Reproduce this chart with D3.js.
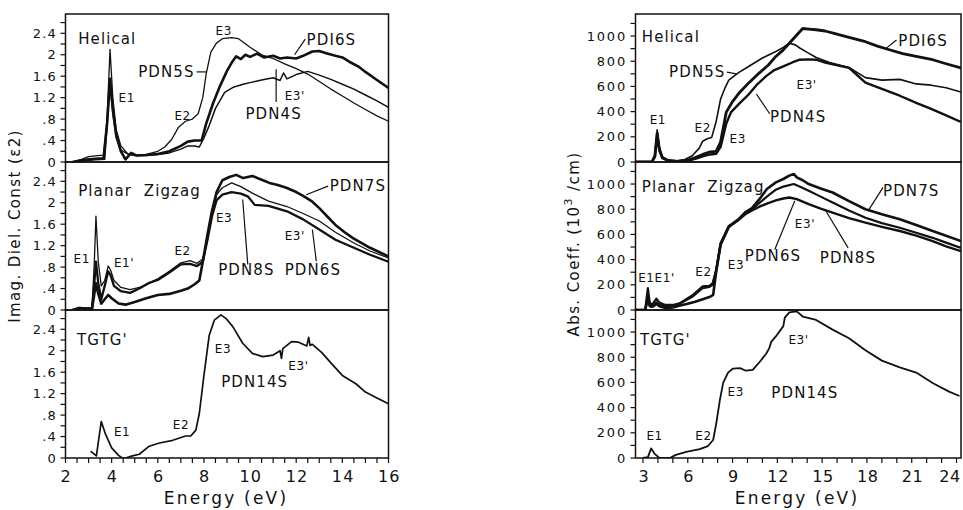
<!DOCTYPE html>
<html><head><meta charset="utf-8">
<script src="https://cdn.jsdelivr.net/npm/d3@7/dist/d3.min.js"></script>
<style>
body{margin:0;background:#fff}
svg{display:block}
text{font-family:"DejaVu Sans",Verdana,sans-serif;fill:#111}
</style>
</head><body>
<svg id="chart" width="963" height="510"></svg>
<script>
// ---------------- DATA ----------------
// Left column: imaginary dielectric constant (eps2) vs energy (eV)
const epsHelicalPDN5S = [[2.3,0],[2.7,0.05],[3.0,0.1],[3.4,0.12],[3.65,0.13],[3.8,0.8],[3.93,2.1],[4.05,1.2],[4.2,0.6],[4.4,0.3],[4.7,0.15],[5.0,0.12],[5.5,0.14],[6.0,0.2],[6.3,0.28],[6.6,0.42],[6.9,0.65],[7.2,0.76],[7.5,0.8],[7.75,0.9],[7.95,1.2],[8.1,1.65],[8.3,2.05],[8.55,2.22],[8.8,2.3],[9.2,2.32],[9.5,2.3],[10.0,2.14],[10.5,2.0],[11.0,1.93],[11.5,1.83],[12.0,1.74],[12.5,1.64],[13.0,1.5],[13.5,1.36],[14.0,1.23],[14.5,1.1],[15.0,0.98],[15.5,0.86],[16,0.76]];
const epsHelicalPDI6S = [[2.3,0],[2.8,0.04],[3.3,0.06],[3.65,0.07],[3.8,0.7],[3.93,1.55],[4.05,1.0],[4.2,0.5],[4.4,0.2],[4.6,0.05],[4.85,0.17],[5.1,0.12],[5.5,0.13],[6.0,0.15],[6.5,0.2],[7.0,0.3],[7.3,0.38],[7.6,0.4],[7.9,0.4],[8.1,0.72],[8.4,1.1],[8.7,1.42],[9.0,1.7],[9.2,1.85],[9.4,1.97],[9.6,1.92],[9.8,2.0],[10.0,1.96],[10.3,2.02],[10.6,1.95],[11.0,1.98],[11.3,1.93],[11.6,1.95],[12.0,1.93],[12.3,1.98],[12.7,2.06],[13.0,2.07],[13.3,2.03],[13.7,1.98],[14.0,1.95],[14.3,1.87],[14.7,1.78],[15.0,1.68],[15.5,1.53],[16,1.38]];
const epsHelicalPDN4S = [[2.3,0],[2.8,0.03],[3.3,0.04],[3.7,0.05],[3.82,0.8],[3.93,1.45],[4.05,0.9],[4.2,0.45],[4.4,0.22],[4.7,0.15],[5.0,0.12],[5.5,0.12],[6.0,0.14],[6.5,0.17],[7.0,0.24],[7.3,0.3],[7.6,0.3],[7.8,0.28],[8.0,0.45],[8.2,0.65],[8.5,1.0],[8.9,1.3],[9.3,1.4],[9.7,1.45],[10.0,1.48],[10.5,1.53],[11.0,1.57],[11.3,1.52],[11.45,1.66],[11.6,1.55],[12.0,1.63],[12.5,1.69],[13.0,1.62],[13.5,1.54],[14.0,1.45],[14.5,1.36],[15.0,1.25],[15.5,1.14],[16,1.02]];

const epsZigzagPDN8S = [[2.3,0],[2.6,0.05],[2.9,0.03],[3.15,0.03],[3.25,0.9],[3.32,1.75],[3.42,0.9],[3.55,0.45],[3.7,0.55],[3.85,0.82],[3.95,0.75],[4.1,0.55],[4.4,0.42],[4.8,0.38],[5.2,0.42],[5.6,0.5],[6.0,0.58],[6.5,0.72],[7.0,0.88],[7.4,0.92],[7.7,0.87],[7.95,0.95],[8.15,1.3],[8.35,1.8],[8.55,2.15],[8.8,2.28],[9.2,2.37],[9.6,2.3],[10.1,2.18],[10.8,2.03],[11.6,1.93],[12.3,1.8],[13.0,1.66],[13.7,1.45],[14.5,1.25],[15.2,1.1],[16,0.97]];
const epsZigzagPDN6S = [[2.3,0],[2.6,0.04],[2.9,0.03],[3.15,0.03],[3.25,0.5],[3.32,0.9],[3.42,0.5],[3.55,0.2],[3.7,0.45],[3.85,0.72],[3.95,0.65],[4.1,0.45],[4.4,0.35],[4.8,0.32],[5.2,0.4],[5.6,0.5],[6.0,0.56],[6.5,0.7],[7.0,0.85],[7.4,0.86],[7.7,0.82],[7.95,0.9],[8.15,1.3],[8.35,1.75],[8.55,2.05],[8.8,2.15],[9.2,2.2],[9.6,2.17],[9.9,2.12],[10.2,1.96],[10.5,1.95],[10.8,1.94],[11.6,1.84],[12.3,1.69],[13.0,1.5],[13.7,1.31],[14.5,1.16],[15.2,1.03],[16,0.9]];
const epsZigzagPDN7S = [[2.3,0],[2.6,0.03],[3.15,0.02],[3.25,0.3],[3.32,0.5],[3.42,0.3],[3.55,0.12],[3.7,0.2],[3.85,0.28],[4.0,0.22],[4.3,0.12],[4.6,0.1],[5.0,0.15],[5.5,0.22],[6.0,0.28],[6.5,0.3],[7.0,0.36],[7.3,0.4],[7.6,0.48],[7.8,0.55],[7.95,0.9],[8.15,1.4],[8.35,1.85],[8.55,2.2],[8.8,2.42],[9.1,2.48],[9.4,2.52],[9.7,2.46],[10.1,2.5],[10.5,2.43],[10.84,2.37],[11.2,2.33],[11.57,2.28],[12.0,2.2],[12.3,2.13],[12.7,2.02],[13.0,1.9],[13.4,1.72],[13.74,1.57],[14.1,1.45],[14.46,1.34],[15.2,1.16],[16,1.0]];

const epsTGTGPDN14S = [[3.09,0.13],[3.34,0.04],[3.49,0.5],[3.55,0.68],[3.72,0.46],[4.0,0.19],[4.3,0.05],[4.46,0],[4.6,0],[4.9,0.04],[5.2,0.07],[5.63,0.22],[6.07,0.28],[6.65,0.33],[7.2,0.41],[7.43,0.41],[7.65,0.52],[7.8,0.83],[8.0,1.54],[8.23,2.29],[8.45,2.57],[8.74,2.67],[8.96,2.6],[9.25,2.45],[9.68,2.14],[10.1,1.95],[10.55,1.89],[11.0,1.92],[11.3,2.0],[11.36,1.86],[11.42,2.04],[11.8,2.17],[12.1,2.16],[12.46,2.09],[12.54,2.25],[12.6,2.1],[12.7,2.12],[13.1,1.97],[13.55,1.75],[14.0,1.54],[14.6,1.38],[15.0,1.23],[15.5,1.12],[16,1.01]];

// Right column: absorption coefficient (10^3 /cm) vs energy (eV)
const absHelicalPDN5S = [[2.5,0],[3.6,0],[3.8,60],[3.95,255],[4.1,120],[4.3,40],[4.7,15],[5.3,10],[5.8,20],[6.3,50],[6.77,110],[7.0,165],[7.3,185],[7.6,195],[7.9,320],[8.2,500],[8.5,590],[8.75,650],[9.4,710],[10.1,760],[11.0,826],[11.9,877],[12.4,910],[12.8,943],[13.2,930],[13.5,905],[14.0,870],[14.6,830],[15.5,790],[16.8,750],[17.9,670],[19,650],[20.2,656],[21.3,620],[22.3,610],[23.3,590],[24.3,555]];
const absHelicalPDN4S = [[2.5,0],[3.6,0],[3.8,40],[3.95,200],[4.1,90],[4.3,30],[4.7,10],[5.3,5],[6.0,10],[6.5,25],[7.0,45],[7.5,60],[7.9,65],[8.2,120],[8.58,305],[8.9,396],[9.5,470],[10.0,526],[10.6,610],[11.25,682],[11.8,730],[12.4,760],[13.0,790],[13.5,812],[14.1,815],[14.6,812],[15.2,790],[15.8,773],[16.8,747],[17.9,630],[19.0,580],[20.2,526],[21.3,470],[22.3,422],[23.3,370],[24.3,318]];
const absHelicalPDI6S = [[2.5,0],[3.6,0],[3.8,50],[3.95,230],[4.1,100],[4.3,35],[4.7,10],[5.3,5],[6.0,15],[6.5,35],[7.0,60],[7.5,80],[7.9,85],[8.2,160],[8.58,396],[9.0,480],[9.47,552],[10.1,630],[10.8,708],[11.4,770],[11.9,838],[12.4,890],[12.8,943],[13.3,1008],[13.7,1060],[14.1,1055],[14.6,1050],[15.2,1040],[15.8,1021],[16.8,990],[17.9,955],[18.7,920],[19.5,891],[20.4,860],[21.3,838],[22.4,812],[23.3,780],[24.3,747]];

const absZigzagPDN7S = [[2.5,0],[3.15,0],[3.25,60],[3.33,120],[3.45,40],[3.7,30],[3.9,50],[4.1,30],[4.5,15],[5.0,20],[5.5,35],[6.0,50],[6.5,65],[7.0,85],[7.5,105],[7.7,120],[7.9,300],[8.2,520],[8.75,660],[9.4,720],[9.85,775],[10.3,810],[10.8,880],[11.3,960],[11.9,1013],[12.4,1040],[12.8,1067],[13.1,1080],[13.3,1053],[13.7,1030],[14.1,1000],[14.9,965],[15.7,933],[16.8,865],[17.9,800],[19.0,760],[20.2,720],[21.3,675],[22.4,627],[23.3,590],[24.3,547]];
const absZigzagPDN8S = [[2.5,0],[3.15,0],[3.25,100],[3.33,173],[3.45,60],[3.6,40],[3.9,90],[4.1,60],[4.5,40],[5.0,40],[5.45,53],[6.35,120],[7.0,187],[7.45,192],[7.67,213],[7.9,320],[8.2,533],[8.75,667],[9.4,720],[9.85,773],[10.3,800],[10.8,850],[11.3,900],[11.9,955],[12.4,980],[13.1,1000],[13.6,975],[14.1,947],[14.9,900],[15.7,853],[16.8,790],[17.9,733],[19.0,690],[20.2,653],[21.3,613],[22.4,573],[23.3,535],[24.3,493]];
const absZigzagPDN6S = [[2.5,0],[3.15,0],[3.25,50],[3.33,90],[3.45,30],[3.6,25],[3.9,60],[4.1,40],[4.5,30],[5.0,35],[5.45,50],[6.35,110],[7.0,175],[7.45,185],[7.67,200],[7.9,310],[8.2,520],[8.75,660],[9.4,715],[9.85,760],[10.3,790],[10.8,820],[11.3,845],[11.9,870],[12.4,885],[12.8,893],[13.3,880],[14.1,840],[14.9,805],[15.7,773],[16.8,730],[17.9,693],[19.0,660],[20.2,627],[21.3,590],[22.4,547],[23.3,505],[24.3,467]];

const absTGTGPDN14S = [[3.0,0],[3.33,7],[3.55,76],[3.77,35],[4.1,0],[4.5,0],[4.8,0],[5.2,25],[5.9,49],[6.8,71],[7.35,95],[7.7,143],[7.9,268],[8.15,459],[8.37,596],[8.7,678],[9.03,710],[9.5,713],[9.9,693],[10.35,700],[10.8,760],[11.25,828],[11.45,870],[11.6,924],[11.9,965],[12.4,1047],[12.5,1115],[12.8,1156],[13.3,1164],[13.7,1123],[14.6,1096],[15.7,1019],[16.8,951],[17.9,855],[19.0,773],[20.2,719],[21.3,678],[22.4,596],[23.5,527],[24.2,492]];

// Tick labels
const leftXTickLabels = [2,4,6,8,10,12,14,16];
const leftXMinorTicks = [2,2.5,3,3.5,4,4.5,5,5.5,6,6.5,7,7.5,8,8.5,9,9.5,10,10.5,11,11.5,12,12.5,13,13.5,14,14.5,15,15.5,16];
const leftYTickLabels = [0,0.4,0.8,1.2,1.6,2,2.4];
const leftYMinorTicks = [0,0.2,0.4,0.6,0.8,1.0,1.2,1.4,1.6,1.8,2.0,2.2,2.4,2.6];
const rightXTickLabels = [3,6,9,12,15,18,21,24];
const rightXMinorTicks = [3,4,5,6,7,8,9,10,11,12,13,14,15,16,17,18,19,20,21,22,23,24];
const rightYTickLabels = [0,200,400,600,800,1000];
const rightYMinorTicks = [0,100,200,300,400,500,600,700,800,900,1000,1100];

// Annotations: [column, row, text, energy, value, kind]
const annotations = [
  ["L",0,"Helical",2.55,2.2,"title"],
  ["L",0,"E1",4.3,1.12,"e"],
  ["L",0,"E2",6.72,0.78,"e"],
  ["L",0,"E3",8.5,2.36,"e"],
  ["L",0,"PDN5S",5.15,1.59,"s"],
  ["L",0,"PDI6S",12.45,2.19,"s"],
  ["L",0,"E3'",11.5,1.15,"e"],
  ["L",0,"PDN4S",9.8,0.8,"s"],
  ["L",1,"Planar  Zigzag",2.55,2.12,"title"],
  ["L",1,"E1",2.35,0.88,"e"],
  ["L",1,"E1'",4.1,0.8,"e"],
  ["L",1,"E2",6.72,1.03,"e"],
  ["L",1,"E3",8.52,1.64,"e"],
  ["L",1,"PDN8S",8.62,0.65,"s"],
  ["L",1,"PDN6S",11.5,0.65,"s"],
  ["L",1,"E3'",11.5,1.31,"e"],
  ["L",1,"PDN7S",13.45,2.21,"s"],
  ["L",2,"TGTG'",2.5,2.1,"title"],
  ["L",2,"E1",4.1,0.41,"e"],
  ["L",2,"E2",6.65,0.54,"e"],
  ["L",2,"E3",8.47,1.95,"e"],
  ["L",2,"E3'",11.66,1.65,"e"],
  ["L",2,"PDN14S",8.75,1.32,"s"],
  ["R",0,"Helical",2.92,955,"title"],
  ["R",0,"E1",3.45,305,"e"],
  ["R",0,"E2",6.45,240,"e"],
  ["R",0,"E3",8.8,148,"e"],
  ["R",0,"E3'",13.28,578,"e"],
  ["R",0,"PDN5S",4.75,677,"s"],
  ["R",0,"PDI6S",20.1,917,"s"],
  ["R",0,"PDN4S",11.5,318,"s"],
  ["R",1,"Planar  Zigzag",2.92,933,"title"],
  ["R",1,"E1E1'",2.68,219,"e"],
  ["R",1,"E2",6.5,272,"e"],
  ["R",1,"E3",8.68,325,"e"],
  ["R",1,"PDN6S",9.82,387,"s"],
  ["R",1,"E3'",13.17,653,"e"],
  ["R",1,"PDN8S",14.84,373,"s"],
  ["R",1,"PDN7S",19.08,907,"s"],
  ["R",2,"TGTG'",2.8,896,"title"],
  ["R",2,"E1",3.23,145,"e"],
  ["R",2,"E2",6.5,145,"e"],
  ["R",2,"E3",8.66,492,"e"],
  ["R",2,"E3'",12.74,902,"e"],
  ["R",2,"PDN14S",11.6,473,"s"]
];
// Leader lines: [column, row, E1, v1, E2, v2]
const leaders = [
  ["L",0,7.68,1.68,8.1,1.68],
  ["L",0,12.39,2.29,11.93,2.0],
  ["L",0,11.13,1.12,11.13,1.73],
  ["L",1,9.9,0.85,9.68,2.06],
  ["L",1,12.87,0.91,12.7,1.5],
  ["L",1,13.38,2.31,12.43,2.15],
  ["R",0,8.62,713,9.26,700],
  ["R",0,19.98,969,19.3,904],
  ["R",0,11.49,383,10.6,539],
  ["R",1,11.83,480,13.17,867],
  ["R",1,16.74,493,15.18,800],
  ["R",1,19.08,973,18.08,787]
];

// ---------------- LAYOUT ----------------
const svg = d3.select("#chart");
const rowTop = [14, 162, 310];
const rowH = 148;
const cols = {
  L: {x0: 65.5, x1: 388.5, xd: [2,16], yd: [0,2.76]},
  R: {x0: 635.5, x1: 961, xd: [2.5,24.3], yd: [0,1175]}
};
const xs = {
  L: d3.scaleLinear().domain(cols.L.xd).range([cols.L.x0, cols.L.x1]),
  R: d3.scaleLinear().domain(cols.R.xd).range([cols.R.x0, cols.R.x1])
};
function yScale(c, r){
  return d3.scaleLinear().domain(cols[c].yd).range([rowTop[r]+rowH, rowTop[r]]);
}

const series = [
  ["L",0,epsHelicalPDN5S,1.3],["L",0,epsHelicalPDI6S,2.6],["L",0,epsHelicalPDN4S,1.5],
  ["L",1,epsZigzagPDN8S,1.3],["L",1,epsZigzagPDN6S,2.3],["L",1,epsZigzagPDN7S,2.6],
  ["L",2,epsTGTGPDN14S,1.7],
  ["R",0,absHelicalPDN5S,1.6],["R",0,absHelicalPDN4S,2.4],["R",0,absHelicalPDI6S,2.8],
  ["R",1,absZigzagPDN7S,2.6],["R",1,absZigzagPDN8S,2.2],["R",1,absZigzagPDN6S,2.4],
  ["R",2,absTGTGPDN14S,1.8]
];

const defs = svg.append("defs");
["L","R"].forEach(c => [0,1,2].forEach(r => {
  defs.append("clipPath").attr("id", `clip${c}${r}`).append("rect")
    .attr("x", cols[c].x0).attr("y", rowTop[r])
    .attr("width", cols[c].x1 - cols[c].x0).attr("height", rowH);
}));

// axes ticks & labels
const fmtL = v => v === 0 ? "0" : String(+v.toFixed(1)).replace(/^0\./, ".");
["L","R"].forEach(c => {
  const x = xs[c];
  [0,1,2].forEach(r => {
    const y = yScale(c, r);
    const g = svg.append("g");
    const minor = c === "L" ? leftYMinorTicks : rightYMinorTicks;
    const labels = c === "L" ? leftYTickLabels : rightYTickLabels;
    g.selectAll("line.yt").data(minor).join("line")
      .attr("x1", cols[c].x0 - 5).attr("x2", cols[c].x0)
      .attr("y1", d => y(d)).attr("y2", d => y(d))
      .attr("stroke", "#111").attr("stroke-width", 1.2);
    g.selectAll("text.yl").data(labels).join("text")
      .attr("x", c === "L" ? 57 : 627)
      .attr("y", d => y(d)).attr("dy", "0.36em")
      .attr("text-anchor", "end")
      .attr("font-size", 13).attr("letter-spacing", c === "L" ? 1.2 : 1.8)
      .text(d => c === "L" ? fmtL(d) : d);
    // frame
    svg.append("rect").attr("x", cols[c].x0).attr("y", rowTop[r])
      .attr("width", cols[c].x1 - cols[c].x0).attr("height", rowH)
      .attr("fill", "none").attr("stroke", "#111").attr("stroke-width", 1.5);
  });
  const yb = rowTop[2] + rowH;
  const xminor = c === "L" ? leftXMinorTicks : rightXMinorTicks;
  const xlabels = c === "L" ? leftXTickLabels : rightXTickLabels;
  svg.selectAll(null).data(xminor).join("line")
    .attr("x1", d => x(d)).attr("x2", d => x(d))
    .attr("y1", yb).attr("y2", yb + 5)
    .attr("stroke", "#111").attr("stroke-width", 1.2);
  const maxX = cols[c].xd[1];
  svg.selectAll(null).data(xlabels).join("text")
    .attr("x", d => Math.min(x(d) + 0.8, c === "R" ? 950 : 999))
    .attr("y", yb + 24)
    .attr("text-anchor", "middle").attr("font-size", 16)
    .attr("letter-spacing", c === "R" ? 0.6 : 1.2)
    .text(d => d);
});

// axis titles
svg.append("text").attr("x", 226).attr("y", 504).attr("text-anchor", "middle")
  .attr("font-size", 17).attr("letter-spacing", 2.2).text("Energy (eV)");
svg.append("text").attr("x", 797).attr("y", 504).attr("text-anchor", "middle")
  .attr("font-size", 17).attr("letter-spacing", 2.2).text("Energy (eV)");
svg.append("text").attr("transform", "translate(20,226) rotate(-90)")
  .attr("text-anchor", "middle").attr("font-size", 15).attr("letter-spacing", 1.4)
  .text("Imag. Diel. Const (\u03b52)");
const rt = svg.append("text").attr("transform", "translate(579,244) rotate(-90)")
  .attr("text-anchor", "middle").attr("font-size", 15).attr("letter-spacing", 1.4);
rt.append("tspan").text("Abs. Coeff. (10");
rt.append("tspan").attr("dy", -7).attr("font-size", 11).text("3");
rt.append("tspan").attr("dy", 7).text(" /cm)");

// curves
series.forEach(([c, r, data, w]) => {
  const x = xs[c], y = yScale(c, r);
  const line = d3.line().x(d => x(d[0])).y(d => y(d[1]));
  svg.append("path").datum(data)
    .attr("clip-path", `url(#clip${c}${r})`)
    .attr("d", line).attr("fill", "none").attr("stroke", "#111")
    .attr("stroke-width", w).attr("stroke-linejoin", "round");
});

// leaders
leaders.forEach(([c, r, e1, v1, e2, v2]) => {
  const x = xs[c], y = yScale(c, r);
  svg.append("line").attr("x1", x(e1)).attr("y1", y(v1)).attr("x2", x(e2)).attr("y2", y(v2))
    .attr("stroke", "#111").attr("stroke-width", 1.2);
});

// annotation texts
annotations.forEach(([c, r, t, e, v, kind]) => {
  const x = xs[c], y = yScale(c, r);
  const fs = kind === "e" ? 12 : 15;
  const ls = kind === "e" ? 0.6 : 1.1;
  svg.append("text").attr("x", x(e)).attr("y", y(v))
    .attr("font-size", fs).attr("letter-spacing", ls)
    .attr("xml:space", "preserve").style("white-space", "pre")
    .text(t);
});
</script>
</body></html>
